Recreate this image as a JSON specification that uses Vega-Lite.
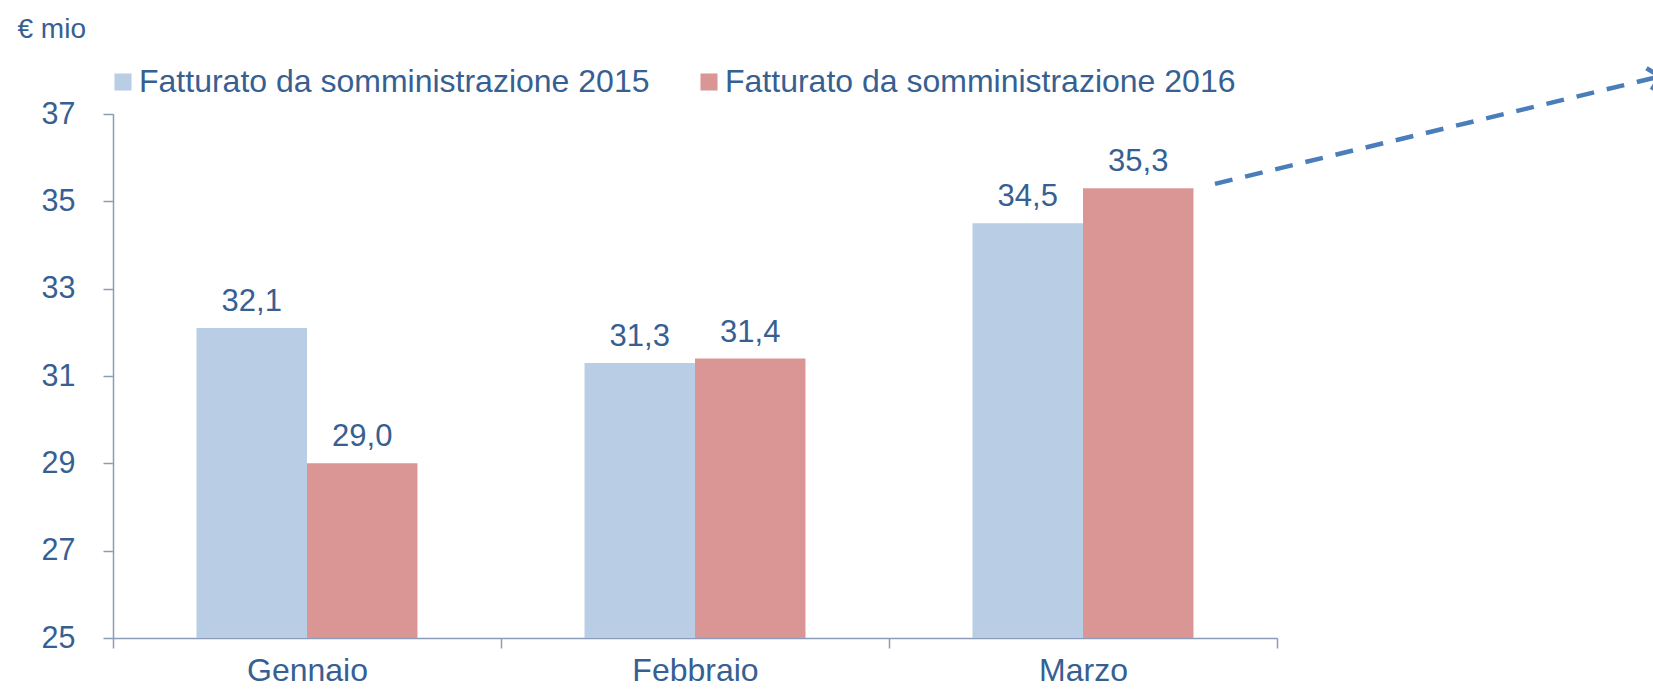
{
  "$schema": "https://vega.github.io/schema/vega-lite/v6.json",
  "width": 1164,
  "height": 524,
  "autosize": {"type": "none"},
  "padding": {"left": 113, "top": 114, "right": 376, "bottom": 52},
  "background": "white",
  "config": {
    "locale": {"number": {"decimal": ",", "thousands": ".", "grouping": [3], "currency": ["€", ""]}},
    "font": "Liberation Sans",
    "view": {"stroke": null},
    "axis": {"grid": false}
  },
  "layer": [
    {
      "data": {"values": [
        {"month": "Gennaio", "series": "Fatturato da somministrazione 2015", "value": 32.1},
        {"month": "Gennaio", "series": "Fatturato da somministrazione 2016", "value": 29.0},
        {"month": "Febbraio", "series": "Fatturato da somministrazione 2015", "value": 31.3},
        {"month": "Febbraio", "series": "Fatturato da somministrazione 2016", "value": 31.4},
        {"month": "Marzo", "series": "Fatturato da somministrazione 2015", "value": 34.5},
        {"month": "Marzo", "series": "Fatturato da somministrazione 2016", "value": 35.3}
      ]},
      "encoding": {
        "x": {
          "field": "month", "type": "nominal", "sort": ["Gennaio", "Febbraio", "Marzo"],
          "scale": {"paddingInner": 0, "paddingOuter": 0},
          "axis": {
            "title": null, "labelAngle": 0, "labelFontSize": 32, "labelColor": "#376092",
            "tickSize": 10, "tickBand": "extent", "labelPadding": 7,
            "domainColor": "#8C9BB7", "tickColor": "#8C9BB7", "domainWidth": 1.5, "tickWidth": 1.5
          }
        },
        "xOffset": {
          "field": "series", "type": "nominal",
          "scale": {"paddingInner": 0, "paddingOuter": 0.756}
        },
        "y": {
          "field": "value", "type": "quantitative",
          "scale": {"domain": [25, 37], "nice": false, "zero": false},
          "axis": {
            "orient": "left",
            "values": [25, 27, 29, 31, 33, 35, 37], "format": "d",
            "labelFontSize": 30.5, "labelColor": "#376092", "labelPadding": 28,
            "tickSize": 10, "domainColor": "#8C9BB7", "tickColor": "#8C9BB7",
            "domainWidth": 1.5, "tickWidth": 1.5,
            "title": "€ mio", "titleAngle": 0, "titleX": -96, "titleY": -85,
            "titleAlign": "left", "titleBaseline": "middle", "titleFontSize": 28,
            "titleFontWeight": "normal", "titleColor": "#376092"
          }
        }
      },
      "layer": [
        {
          "mark": {"type": "bar"},
          "encoding": {
            "y2": {"datum": 25},
            "color": {
              "field": "series", "type": "nominal",
              "scale": {"domain": ["Fatturato da somministrazione 2015", "Fatturato da somministrazione 2016"], "range": ["#B9CDE5", "#D99694"]},
              "legend": {
                "title": null, "orient": "none", "direction": "horizontal",
                "legendX": -6, "legendY": -48, "padding": 0,
                "symbolType": "square", "symbolSize": 290, "symbolStrokeWidth": 0, "symbolOpacity": 1,
                "labelFontSize": 32, "labelColor": "#376092", "labelOffset": 0,
                "columnPadding": 43, "labelLimit": 1000
              }
            }
          }
        },
        {
          "mark": {"type": "text", "baseline": "alphabetic", "dy": -17, "fontSize": 31, "color": "#376092"},
          "encoding": {
            "text": {"field": "value", "type": "quantitative", "format": ".1f"}
          }
        }
      ]
    },
    {
      "data": {"values": [
        {"ax": 0.9467, "ay": 35.4},
        {"ax": 1.329, "ay": 37.86}
      ]},
      "mark": {"type": "line", "color": "#4A7EBB", "strokeWidth": 4.5, "strokeDash": [18, 13], "clip": false},
      "encoding": {
        "x": {"field": "ax", "type": "quantitative", "scale": {"domain": [0, 1], "nice": false, "zero": false}, "axis": null},
        "y": {"field": "ay", "type": "quantitative", "axis": null}
      }
    },
    {
      "data": {"values": [
        {"ax": 1.329, "ay": 37.86}
      ]},
      "mark": {"type": "point", "shape": "M-1,-1L0,0L-1,1", "filled": false, "stroke": "#4A7EBB", "strokeWidth": 4.5, "size": 500, "angle": -13.6, "opacity": 1, "clip": false},
      "encoding": {
        "x": {"field": "ax", "type": "quantitative", "scale": {"domain": [0, 1], "nice": false, "zero": false}, "axis": null},
        "y": {"field": "ay", "type": "quantitative", "axis": null}
      }
    }
  ],
  "resolve": {"scale": {"x": "independent", "xOffset": "independent"}, "axis": {"x": "independent", "y": "independent"}}
}
